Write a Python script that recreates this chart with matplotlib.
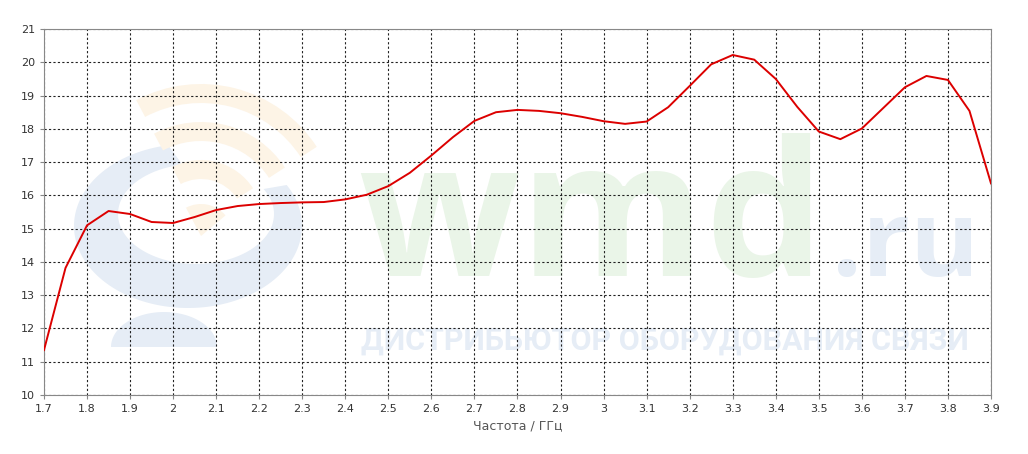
import numpy as np
import matplotlib.pyplot as plt
from matplotlib.patches import Wedge, Polygon

# frequency sweep, GHz
freq = [1.70, 1.75, 1.80, 1.85, 1.90, 1.95, 2.00, 2.05, 2.10, 2.15,
        2.20, 2.25, 2.30, 2.35, 2.40, 2.45, 2.50, 2.55, 2.60, 2.65,
        2.70, 2.75, 2.80, 2.85, 2.90, 2.95, 3.00, 3.05, 3.10, 3.15,
        3.20, 3.25, 3.30, 3.35, 3.40, 3.45, 3.50, 3.55, 3.60, 3.65,
        3.70, 3.75, 3.80, 3.85, 3.90]
# gain values
gain = [11.35, 13.82, 15.10, 15.53, 15.44, 15.20, 15.17, 15.35, 15.56, 15.68,
        15.74, 15.77, 15.79, 15.80, 15.88, 16.02, 16.28, 16.68, 17.20, 17.75,
        18.24, 18.50, 18.57, 18.54, 18.47, 18.36, 18.23, 18.15, 18.22, 18.65,
        19.29, 19.94, 20.22, 20.08, 19.50, 18.66, 17.92, 17.69, 18.01, 18.63,
        19.25, 19.59, 19.47, 18.54, 16.36]

x_ticks = [1.7, 1.8, 1.9, 2.0, 2.1, 2.2, 2.3, 2.4, 2.5, 2.6, 2.7, 2.8,
           2.9, 3.0, 3.1, 3.2, 3.3, 3.4, 3.5, 3.6, 3.7, 3.8, 3.9]
x_labels = ["1.7", "1.8", "1.9", "2", "2.1", "2.2", "2.3", "2.4", "2.5", "2.6",
            "2.7", "2.8", "2.9", "3", "3.1", "3.2", "3.3", "3.4", "3.5", "3.6",
            "3.7", "3.8", "3.9"]
y_ticks = list(range(10, 22))

fig = plt.figure(figsize=(10.28, 4.54), dpi=100)

# background layer in pixel units for the faint watermark
bg = fig.add_axes([0, 0, 1, 1], zorder=0)
bg.set_xlim(0, 1028)
bg.set_ylim(454, 0)
bg.axis("off")

blue_wm = "#e6edf6"
orange_wm = "#fdf4e6"
green_wm = "#eaf5e8"

# blue crescent + base
t = np.radians(np.linspace(100, 390, 120))
outer = np.column_stack([188 + 114 * np.cos(t), 226 - 82 * np.sin(t)])
inner = np.column_stack([196 + 78 * np.cos(t[::-1]), 214 - 50 * np.sin(t[::-1])])
bg.add_patch(Polygon(np.vstack([outer, inner]), closed=True, fc=blue_wm, ec="none"))
tb = np.radians(np.linspace(0, 180, 60))
base = np.column_stack([164 + 53 * np.cos(tb), 347 - 35 * np.sin(tb)])
bg.add_patch(Polygon(base, closed=True, fc=blue_wm, ec="none"))
# orange signal arcs
for r in [138, 100, 62]:
    bg.add_patch(Wedge((201, 222), r, -118, -33, width=19, fc=orange_wm, ec="none"))
bg.add_patch(Wedge((201, 236), 32, -118, -40, fc=orange_wm, ec="none"))

bg.text(358, 276, "wmd", fontsize=136, fontweight="bold", color=green_wm,
        family=["Open Sans", "DejaVu Sans"], va="baseline", ha="left")
bg.text(832, 276, ".ru", fontsize=76, fontweight="bold", color=blue_wm,
        family=["Open Sans", "DejaVu Sans"], va="baseline", ha="left")
bg.text(665, 350, "ДИСТРИБЬЮТОР ОБОРУДОВАНИЯ СВЯЗИ", fontsize=22,
        fontweight="bold", color=blue_wm, va="baseline", ha="center",
        family=["Roboto", "DejaVu Sans"])

ax = fig.add_axes([0.0428, 0.13, 0.9212, 0.806], zorder=1)
ax.patch.set_alpha(0)

ax.plot(freq, gain, color="#dc0000", lw=1.4, zorder=3)

ax.set_xlim(1.7, 3.9)
ax.set_ylim(10, 21)
ax.set_xticks(x_ticks)
ax.set_xticklabels(x_labels)
ax.set_yticks(y_ticks)
ax.grid(True, color="#222222", linestyle=(0, (2, 2)), linewidth=0.8)
for s in ax.spines.values():
    s.set_color("#888888")
ax.tick_params(direction="out", length=3, colors="#888888", labelcolor="#333333",
               labelsize=8)
ax.set_xlabel("Частота / ГГц", fontsize=9, color="#555555", labelpad=4)

fig.savefig("out.png", dpi=100)
